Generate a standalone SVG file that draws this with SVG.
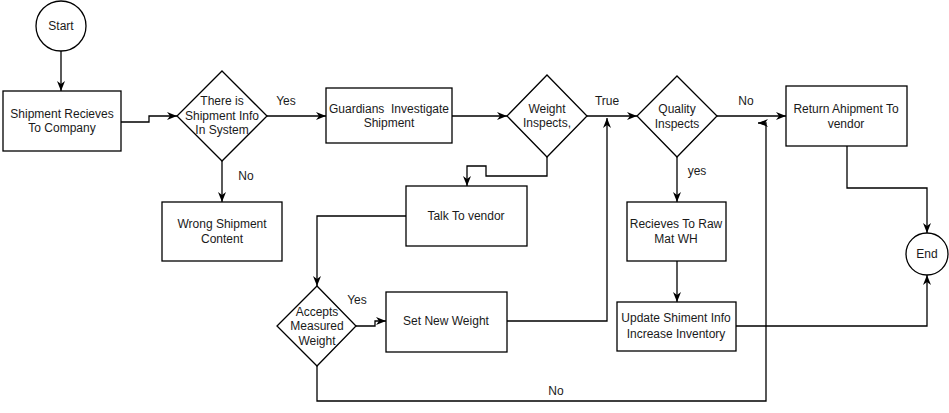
<svg xmlns="http://www.w3.org/2000/svg" width="949" height="413" viewBox="0 0 949 413">
<defs>
<marker id="arr" viewBox="0 0 10 8" refX="10" refY="4" markerWidth="10" markerHeight="8" markerUnits="userSpaceOnUse" orient="auto">
<path d="M0,0 L10,4 L0,8 L3,4 Z" fill="#000"/>
</marker>
</defs>
<style>
.s{fill:#fff;stroke:#000;stroke-width:1.3}
.t{font-family:"Liberation Sans",Arial,sans-serif;font-size:12px;fill:#1a1a1a;text-anchor:middle;white-space:pre}
.c{fill:none;stroke:#000;stroke-width:1.3;marker-end:url(#arr)}
.l{font-family:"Liberation Sans",Arial,sans-serif;font-size:12px;fill:#1a1a1a;text-anchor:middle}
</style>
<rect width="949" height="413" fill="#fff"/>
<g id="connectors">
<path class="c" d="M61,51 V91"/>
<path class="c" d="M121,122 H149 V116 H177"/>
<path class="c" d="M267,116 H326"/>
<path class="c" d="M222,161 V202"/>
<path class="c" d="M452,116 H507"/>
<path class="c" d="M587,116 H637"/>
<path class="c" d="M547,157 V176 H486 V166 H467 V186"/>
<path class="c" d="M406,216 H317 V286"/>
<path class="c" d="M356,326 H375 V321 H386"/>
<path class="c" d="M507,321 H607 V118"/>
<path class="c" d="M317,366 V401 H766 V123 H758"/>
<path class="c" d="M717,116 H786"/>
<path class="c" d="M677,157 V202"/>
<path class="c" d="M677,261 V302"/>
<path class="c" d="M847,146 V188 H927 V233"/>
<path class="c" d="M736,326 H927 V275"/>
<text class="l" x="286" y="105">Yes</text>
<text class="l" x="246" y="180">No</text>
<text class="l" x="607" y="105">True</text>
<text class="l" x="746" y="105">No</text>
<text class="l" x="697" y="175">yes</text>
<text class="l" x="357" y="304">Yes</text>
<text class="l" x="556" y="395">No</text>
</g>
<g id="start">
<circle class="s" cx="61" cy="26" r="25"/>
<text class="t" x="61" y="30">Start</text>
</g>
<g id="shipment-recieves">
<rect class="s" x="3" y="91" width="118" height="60"/>
<text class="t" x="62" y="118">Shipment Recieves</text>
<text class="t" x="62" y="132">To Company</text>
</g>
<g id="shipment-info">
<polygon class="s" points="222,71 267,116 222,161 177,116"/>
<text class="t" x="222" y="105">There is</text>
<text class="t" x="222" y="120">Shipment Info</text>
<text class="t" x="222" y="134">In System</text>
</g>
<g id="wrong-shipment">
<rect class="s" x="162" y="202" width="120" height="59"/>
<text class="t" x="222" y="228">Wrong Shipment</text>
<text class="t" x="222" y="243">Content</text>
</g>
<g id="guardians">
<rect class="s" x="326" y="88" width="126" height="55"/>
<text class="t" x="389" y="113">Guardians  Investigate</text>
<text class="t" x="389" y="127">Shipment</text>
</g>
<g id="weight-inspects">
<polygon class="s" points="547,75 587,116 547,157 507,116"/>
<text class="t" x="547" y="113">Weight</text>
<text class="t" x="547" y="127">Inspects,</text>
</g>
<g id="talk-vendor">
<rect class="s" x="406" y="186" width="121" height="60"/>
<text class="t" x="466" y="220">Talk To vendor</text>
</g>
<g id="accepts-weight">
<polygon class="s" points="317,286 356,326 317,366 277,326"/>
<text class="t" x="317" y="316">Accepts</text>
<text class="t" x="317" y="330">Measured</text>
<text class="t" x="317" y="345">Weight</text>
</g>
<g id="set-new-weight">
<rect class="s" x="386" y="292" width="121" height="60"/>
<text class="t" x="446" y="325">Set New Weight</text>
</g>
<g id="quality-inspects">
<polygon class="s" points="677,76 717,116 677,157 637,116"/>
<text class="t" x="677" y="113">Quality</text>
<text class="t" x="677" y="128">Inspects</text>
</g>
<g id="recieves-raw">
<rect class="s" x="627" y="202" width="99" height="59"/>
<text class="t" x="676" y="228">Recieves To Raw</text>
<text class="t" x="676" y="243">Mat WH</text>
</g>
<g id="update-info">
<rect class="s" x="617" y="302" width="119" height="49"/>
<text class="t" x="676" y="322">Update Shiment Info</text>
<text class="t" x="676" y="338">Increase Inventory</text>
</g>
<g id="return-vendor">
<rect class="s" x="786" y="86" width="121" height="60"/>
<text class="t" x="846" y="113">Return Ahipment To</text>
<text class="t" x="846" y="128">vendor</text>
</g>
<g id="end">
<circle class="s" cx="927" cy="254" r="21"/>
<text class="t" x="927" y="258">End</text>
</g>
</svg>
